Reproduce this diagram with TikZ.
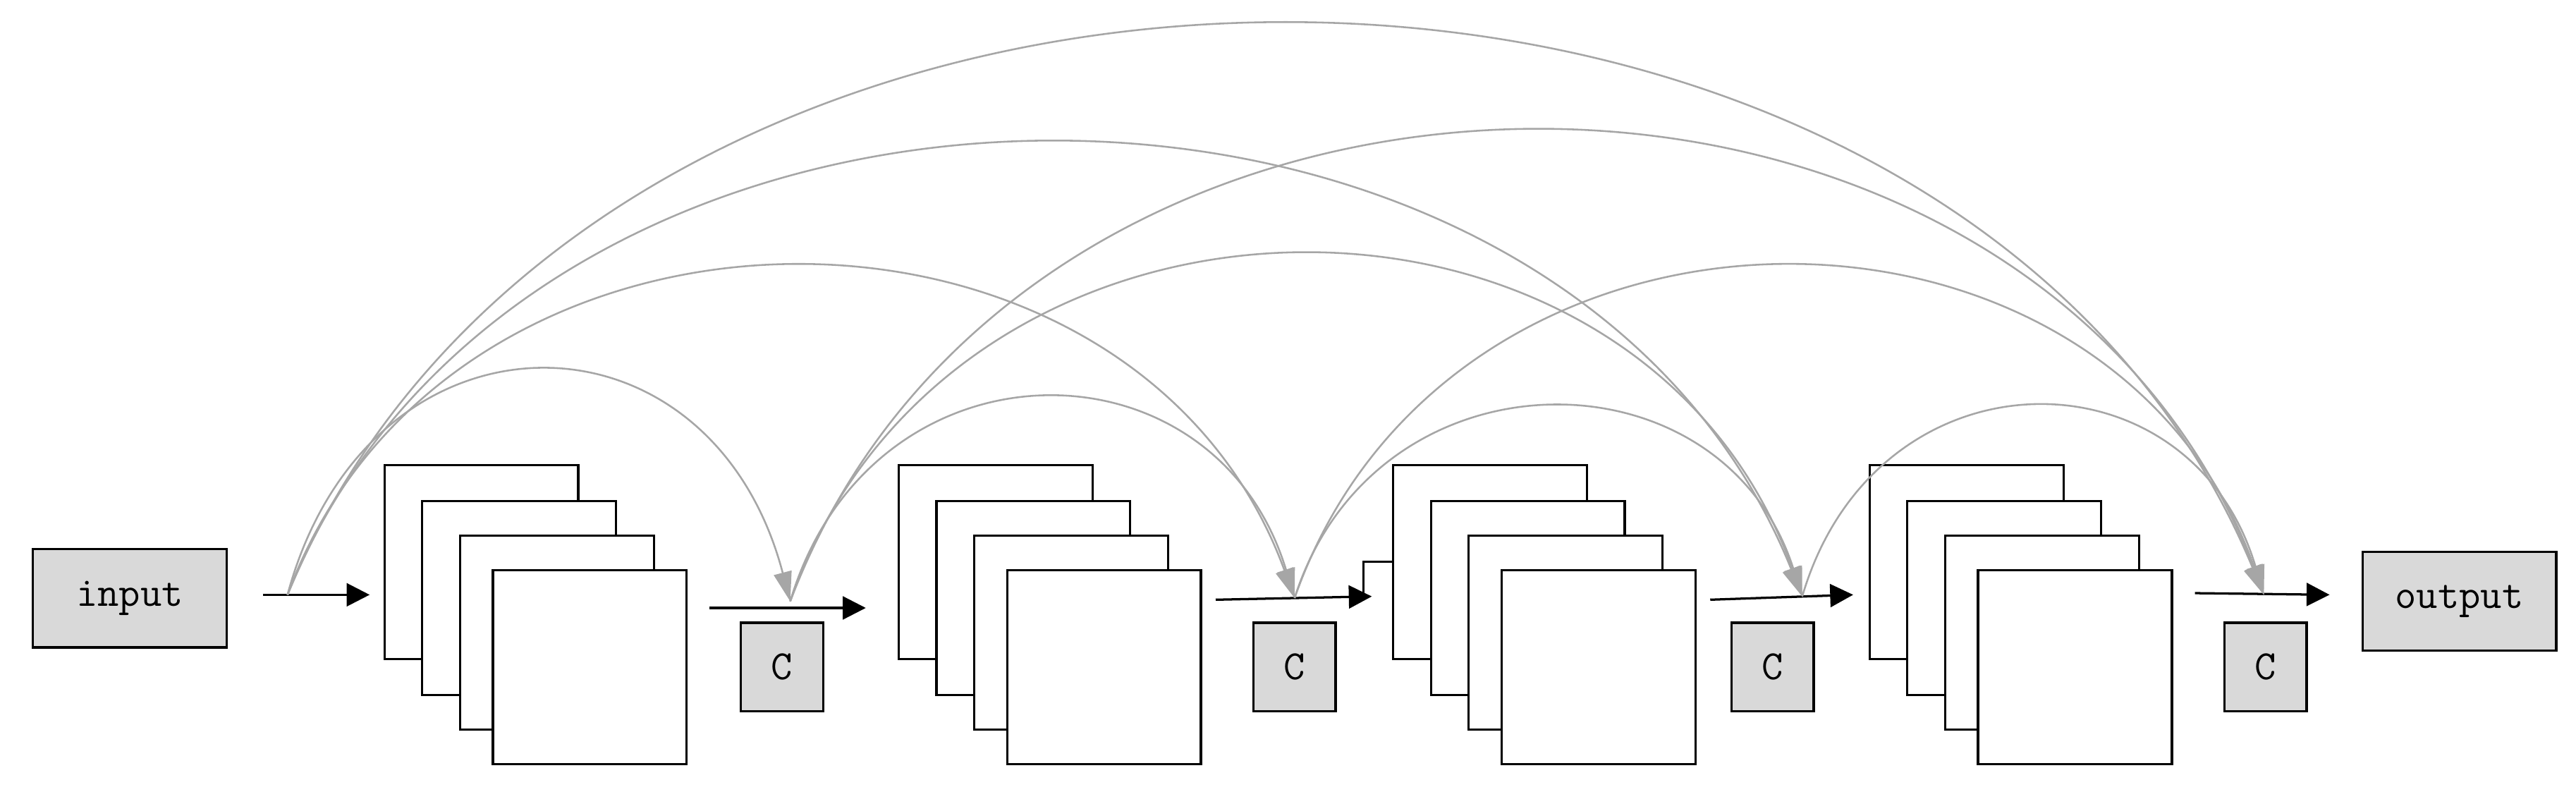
\documentclass[tikz,border=0pt]{standalone}
\usetikzlibrary{arrows.meta}
\definecolor{skip}{HTML}{A6A6A6}
\definecolor{boxg}{HTML}{D9D9D9}
\begin{document}
\begin{tikzpicture}[x=1mm,y=-1mm,
  lay/.style={draw=black,line width=1.4mm,fill=white,minimum width=118mm,minimum height=118mm,inner sep=0pt},
  gbox/.style={draw=black,line width=1.4mm,fill=boxg,inner sep=0pt,font=\fontsize{72}{80}\selectfont\ttfamily},
  flow/.style={draw=black,line width=1.4mm,-{Triangle[length=14mm,width=14mm]}},
  sk/.style={draw=skip,line width=1.1mm,-{Triangle[length=18mm,width=11mm]}}]
\useasboundingbox (0,0) rectangle (1568,482);
\node[gbox,minimum width=118mm,minimum height=60mm] (in) at (79,364) {input};
\node[gbox,minimum width=118mm,minimum height=60mm] (out) at (1497,366) {output};
\foreach \k/\x in {1/476,2/788,3/1079,4/1379}{
  \node[gbox,minimum width=50mm,minimum height=54mm] (c\k) at (\x,406) {C};}
% artifact at block 3
\coordinate (m1) at (848,342); \coordinate (m2) at (830,342); \coordinate (m3) at (830,363);
\draw[line width=1.4mm] (m1) -- (m2) -- (m3);
\foreach \b/\x in {1/234,2/547,3/848,4/1138}{
  \foreach \i/\dx/\dy in {1/0/0,2/23/22,3/46/43,4/66/64}{
    \node[lay] (b\b\i) at (\x+59+\dx,342+\dy) {};}}
% flow arrows
\coordinate (a0) at (160,362); \coordinate (e0) at (225,362);
\coordinate (a1) at (432,370); \coordinate (e1) at (527,370);
\coordinate (a2) at (740,365); \coordinate (e2) at (835,363);
\coordinate (a3) at (1041,365); \coordinate (e3) at (1128,362);
\coordinate (a4) at (1336,361); \coordinate (e4) at (1418,362);
\foreach \i in {0,...,4}{\draw[flow] (a\i) -- (e\i);}
% skip points
\coordinate (s0) at (175,362);
\coordinate (s1) at (481,366);
\coordinate (s2) at (788,364);
\coordinate (s3) at (1097,363);
\coordinate (s4) at (1378,362);
\draw[sk] (s0) .. controls (224,180) and (432,180) .. (s1);
\draw[sk] (s0) .. controls (273,96) and (690,96) .. (s2);
\draw[sk] (s0) .. controls (323,-4) and (949,-4) .. (s3);
\draw[sk] (s0) .. controls (367,-100) and (1186,-100) .. (s4);
\draw[sk] (s1) .. controls (530,202) and (739,202) .. (s2);
\draw[sk] (s1) .. controls (580,86) and (998,86) .. (s3);
\draw[sk] (s1) .. controls (625,-14) and (1234,-14) .. (s4);
\draw[sk] (s2) .. controls (837,210) and (1048,210) .. (s3);
\draw[sk] (s2) .. controls (882,96) and (1284,96) .. (s4);
\draw[sk] (s3) .. controls (1142,210) and (1333,210) .. (s4);
\end{tikzpicture}
\end{document}
